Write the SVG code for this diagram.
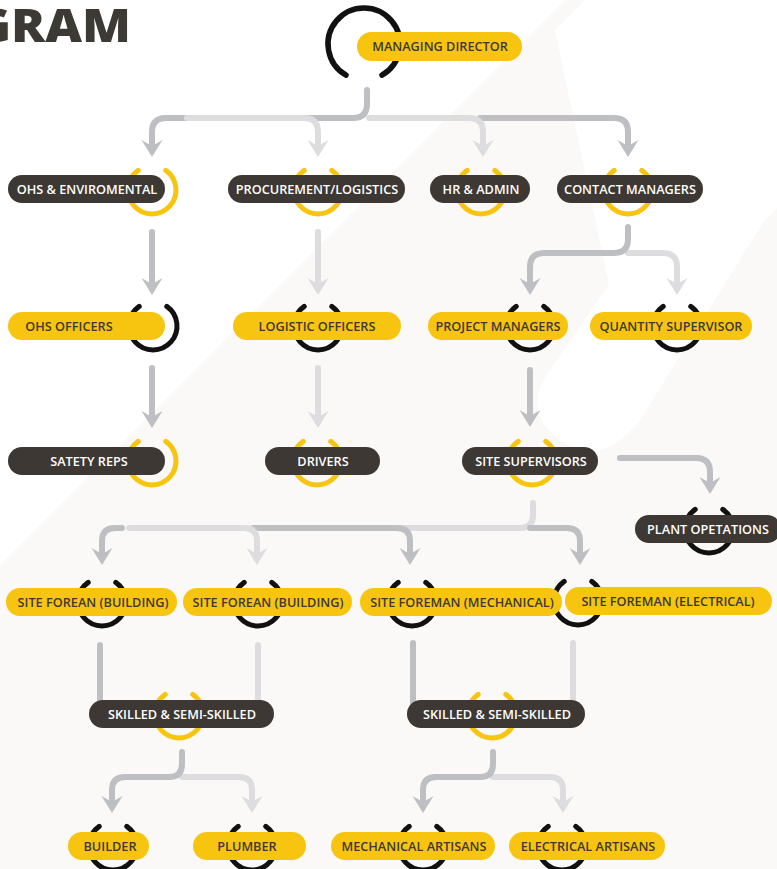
<svg xmlns="http://www.w3.org/2000/svg" xmlns:xlink="http://www.w3.org/1999/xlink" width="777" height="869" viewBox="0 0 777 869">
<style>
.t{font-family:"Open Sans","DejaVu Sans",sans-serif;font-size:12.7px;font-weight:600;text-anchor:middle}
.tw{fill:#ffffff}
.td{fill:#3d3935}
.py{fill:#f7c510}
.pd{fill:#3d3833}
.ry{stroke:#f7c510}
.rk{stroke:#111111}
.cd{fill:none;stroke:#bebfc2;stroke-width:6;stroke-linecap:round;stroke-linejoin:round}
.cl{fill:none;stroke:#dddddf;stroke-width:6;stroke-linecap:round;stroke-linejoin:round}
</style>
<defs>
<path id="ring" d="M13.77,-19.66 A24,24 0 1 1 -13.77,-19.66" fill="none" stroke-width="5" stroke-linecap="round"/>
<marker id="ad" markerUnits="userSpaceOnUse" orient="auto" overflow="visible" markerWidth="1" markerHeight="1" refX="0" refY="0"><path d="M-6,-10.5 L11,0 L-6,10.5 L0,0 Z" fill="#bebfc2"/></marker>
<marker id="al" markerUnits="userSpaceOnUse" orient="auto" overflow="visible" markerWidth="1" markerHeight="1" refX="0" refY="0"><path d="M-6,-10.5 L11,0 L-6,10.5 L0,0 Z" fill="#dddddf"/></marker>
</defs>
<g id="background">
<rect x="0" y="0" width="777" height="869" fill="#faf9f7"/>
<polygon points="0,0 565,0 0,565" fill="#ffffff"/>
<path d="M555,30 L700,-115 L900,85 L625,360 Z" fill="#ffffff"/>
<path d="M777,40 L777,200 L640,420 Q600,470 560,440 Q520,410 550,370 Z" fill="#ffffff"/>
</g>
<text transform="translate(131,42) scale(1.1,1)" x="0" y="0" font-family="'Open Sans','DejaVu Sans',sans-serif" font-size="46" font-weight="800" fill="#3d3935" text-anchor="end">GRAM</text>
<g id="connectors">
<path class="cd" d="M367,90 V104 Q367,118 353,118 H166 Q152,118 152,132 V146" marker-end="url(#ad)"/>
<path class="cl" d="M187,118 H304 Q318,118 318,132 V146" marker-end="url(#al)"/>
<path class="cd" d="M480,118 H614 Q628,118 628,132 V146" marker-end="url(#ad)"/>
<path class="cl" d="M369,118 H469 Q483,118 483,132 V146" marker-end="url(#al)"/>
<path class="cd" d="M152,232 V284" marker-end="url(#ad)"/>
<path class="cl" d="M318,232 V284" marker-end="url(#al)"/>
<path class="cl" d="M628,253 H663 Q677,253 677,267 V284" marker-end="url(#al)"/>
<path class="cd" d="M628,227 V239 Q628,253 614,253 H544 Q530,253 530,267 V284" marker-end="url(#ad)"/>
<path class="cd" d="M152,368 V417" marker-end="url(#ad)"/>
<path class="cl" d="M318,368 V417" marker-end="url(#al)"/>
<path class="cd" d="M530,370 V416" marker-end="url(#ad)"/>
<path class="cd" d="M620,458 H696 Q710,458 710,472 V483" marker-end="url(#ad)"/>
<path class="cl" d="M533,503 V515 Q533,528 520,528 H400"/>
<path class="cd" d="M530,528 H567 Q580,528 580,541 V554" marker-end="url(#ad)"/>
<path class="cd" d="M253,528 H397 Q410,528 410,541 V554" marker-end="url(#ad)"/>
<path class="cd" d="M122,528 H115 Q102,528 102,541 V554" marker-end="url(#ad)"/>
<path class="cl" d="M129,528 H244 Q257,528 257,541 V554" marker-end="url(#al)"/>
<path class="cd" d="M100,645 V706"/>
<path class="cl" d="M258,645 V706"/>
<path class="cd" d="M413,643 V706"/>
<path class="cl" d="M573,643 V706"/>
<path class="cl" d="M182,777 H239 Q252,777 252,790 V802" marker-end="url(#al)"/>
<path class="cd" d="M182,752 V764 Q182,777 169,777 H125 Q112,777 112,790 V802" marker-end="url(#ad)"/>
<path class="cl" d="M493,777 H550 Q563,777 563,790 V802" marker-end="url(#al)"/>
<path class="cd" d="M493,752 V764 Q493,777 480,777 H436 Q423,777 423,790 V802" marker-end="url(#ad)"/>
</g>
<g id="n-md">
<path d="M382,75.2 A36,36 0 1 0 346,75.2" fill="none" stroke="#111111" stroke-width="5.5" stroke-linecap="round"/>
<rect class="py" x="357" y="32" width="165" height="29" rx="14.5"/>
<text class="t td" x="440" y="51">MANAGING DIRECTOR</text>
</g>
<g id="n-ohs">
<use href="#ring" x="152" y="190" class="ry"/>
<rect class="pd" x="8" y="175" width="157" height="28" rx="14"/>
<text class="t tw" x="87" y="193.6">OHS &amp; ENVIROMENTAL</text>
</g>
<g id="n-proc">
<use href="#ring" x="318" y="190" class="ry"/>
<rect class="pd" x="228" y="175" width="177" height="28" rx="14"/>
<text class="t tw" x="317" y="193.6">PROCUREMENT/LOGISTICS</text>
</g>
<g id="n-hr">
<use href="#ring" x="481" y="190" class="ry"/>
<rect class="pd" x="430" y="175" width="100" height="28" rx="14"/>
<text class="t tw" x="481" y="193.6">HR &amp; ADMIN</text>
</g>
<g id="n-contact">
<use href="#ring" x="628" y="190" class="ry"/>
<rect class="pd" x="557" y="175" width="146" height="28" rx="14"/>
<text class="t tw" x="630" y="193.6">CONTACT MANAGERS</text>
</g>
<g id="n-ohsoff">
<use href="#ring" x="153" y="326" class="rk"/>
<rect class="py" x="8" y="312" width="157" height="28" rx="14"/>
<text class="t td" x="69" y="330.6">OHS OFFICERS</text>
</g>
<g id="n-logoff">
<use href="#ring" x="318" y="326" class="rk"/>
<rect class="py" x="233" y="312" width="168" height="28" rx="14"/>
<text class="t td" x="317" y="330.6">LOGISTIC OFFICERS</text>
</g>
<g id="n-pm">
<use href="#ring" x="530" y="326" class="rk"/>
<rect class="py" x="428" y="312" width="140" height="28" rx="14"/>
<text class="t td" x="498" y="330.6">PROJECT MANAGERS</text>
</g>
<g id="n-qs">
<use href="#ring" x="677" y="326" class="rk"/>
<rect class="py" x="590" y="312" width="162" height="28" rx="14"/>
<text class="t td" x="671" y="330.6">QUANTITY SUPERVISOR</text>
</g>
<g id="n-safety">
<use href="#ring" x="152" y="461" class="ry"/>
<rect class="pd" x="8" y="447" width="157" height="28" rx="14"/>
<text class="t tw" x="89" y="465.6">SATETY REPS</text>
</g>
<g id="n-drivers">
<use href="#ring" x="317" y="461" class="ry"/>
<rect class="pd" x="265" y="447" width="115" height="28" rx="14"/>
<text class="t tw" x="323" y="465.6">DRIVERS</text>
</g>
<g id="n-sitesup">
<use href="#ring" x="532" y="461" class="ry"/>
<rect class="pd" x="462" y="447" width="136" height="28" rx="14"/>
<text class="t tw" x="531" y="465.6">SITE SUPERVISORS</text>
</g>
<g id="n-plant">
<use href="#ring" x="709" y="529" class="rk"/>
<rect class="pd" x="635" y="515" width="146" height="28" rx="14"/>
<text class="t tw" x="708" y="533.6">PLANT OPETATIONS</text>
</g>
<g id="n-sfb1">
<use href="#ring" x="102" y="602" class="rk"/>
<rect class="py" x="6" y="588" width="171" height="28" rx="14"/>
<text class="t td" x="93" y="606.6">SITE FOREAN (BUILDING)</text>
</g>
<g id="n-sfb2">
<use href="#ring" x="258" y="602" class="rk"/>
<rect class="py" x="183" y="588" width="169" height="28" rx="14"/>
<text class="t td" x="268" y="606.6">SITE FOREAN (BUILDING)</text>
</g>
<g id="n-sfe">
<use href="#ring" x="578" y="601" class="rk"/>
<rect class="py" x="565" y="587" width="207" height="28" rx="14"/>
<text class="t td" x="668" y="605.6">SITE FOREMAN (ELECTRICAL)</text>
</g>
<g id="n-sfm">
<use href="#ring" x="412" y="602" class="rk"/>
<rect class="py" x="360" y="588" width="202" height="28" rx="14"/>
<text class="t td" x="462" y="606.6">SITE FOREMAN (MECHANICAL)</text>
</g>
<g id="n-ss1">
<use href="#ring" x="179" y="714" class="ry"/>
<rect class="pd" x="89" y="700" width="185" height="28" rx="14"/>
<text class="t tw" x="182" y="718.6">SKILLED &amp; SEMI-SKILLED</text>
</g>
<g id="n-ss2">
<use href="#ring" x="492" y="714" class="ry"/>
<rect class="pd" x="407" y="700" width="178" height="28" rx="14"/>
<text class="t tw" x="497" y="718.6">SKILLED &amp; SEMI-SKILLED</text>
</g>
<g id="n-builder">
<use href="#ring" x="113" y="846" class="rk"/>
<rect class="py" x="68" y="832" width="81" height="28" rx="14"/>
<text class="t td" x="110" y="850.6">BUILDER</text>
</g>
<g id="n-plumber">
<use href="#ring" x="252" y="846" class="rk"/>
<rect class="py" x="193" y="832" width="113" height="28" rx="14"/>
<text class="t td" x="247" y="850.6">PLUMBER</text>
</g>
<g id="n-mecha">
<use href="#ring" x="423" y="846" class="rk"/>
<rect class="py" x="331" y="832" width="164" height="28" rx="14"/>
<text class="t td" x="414" y="850.6">MECHANICAL ARTISANS</text>
</g>
<g id="n-eleca">
<use href="#ring" x="562" y="846" class="rk"/>
<rect class="py" x="509" y="832" width="156" height="28" rx="14"/>
<text class="t td" x="588" y="850.6">ELECTRICAL ARTISANS</text>
</g>
</svg>
